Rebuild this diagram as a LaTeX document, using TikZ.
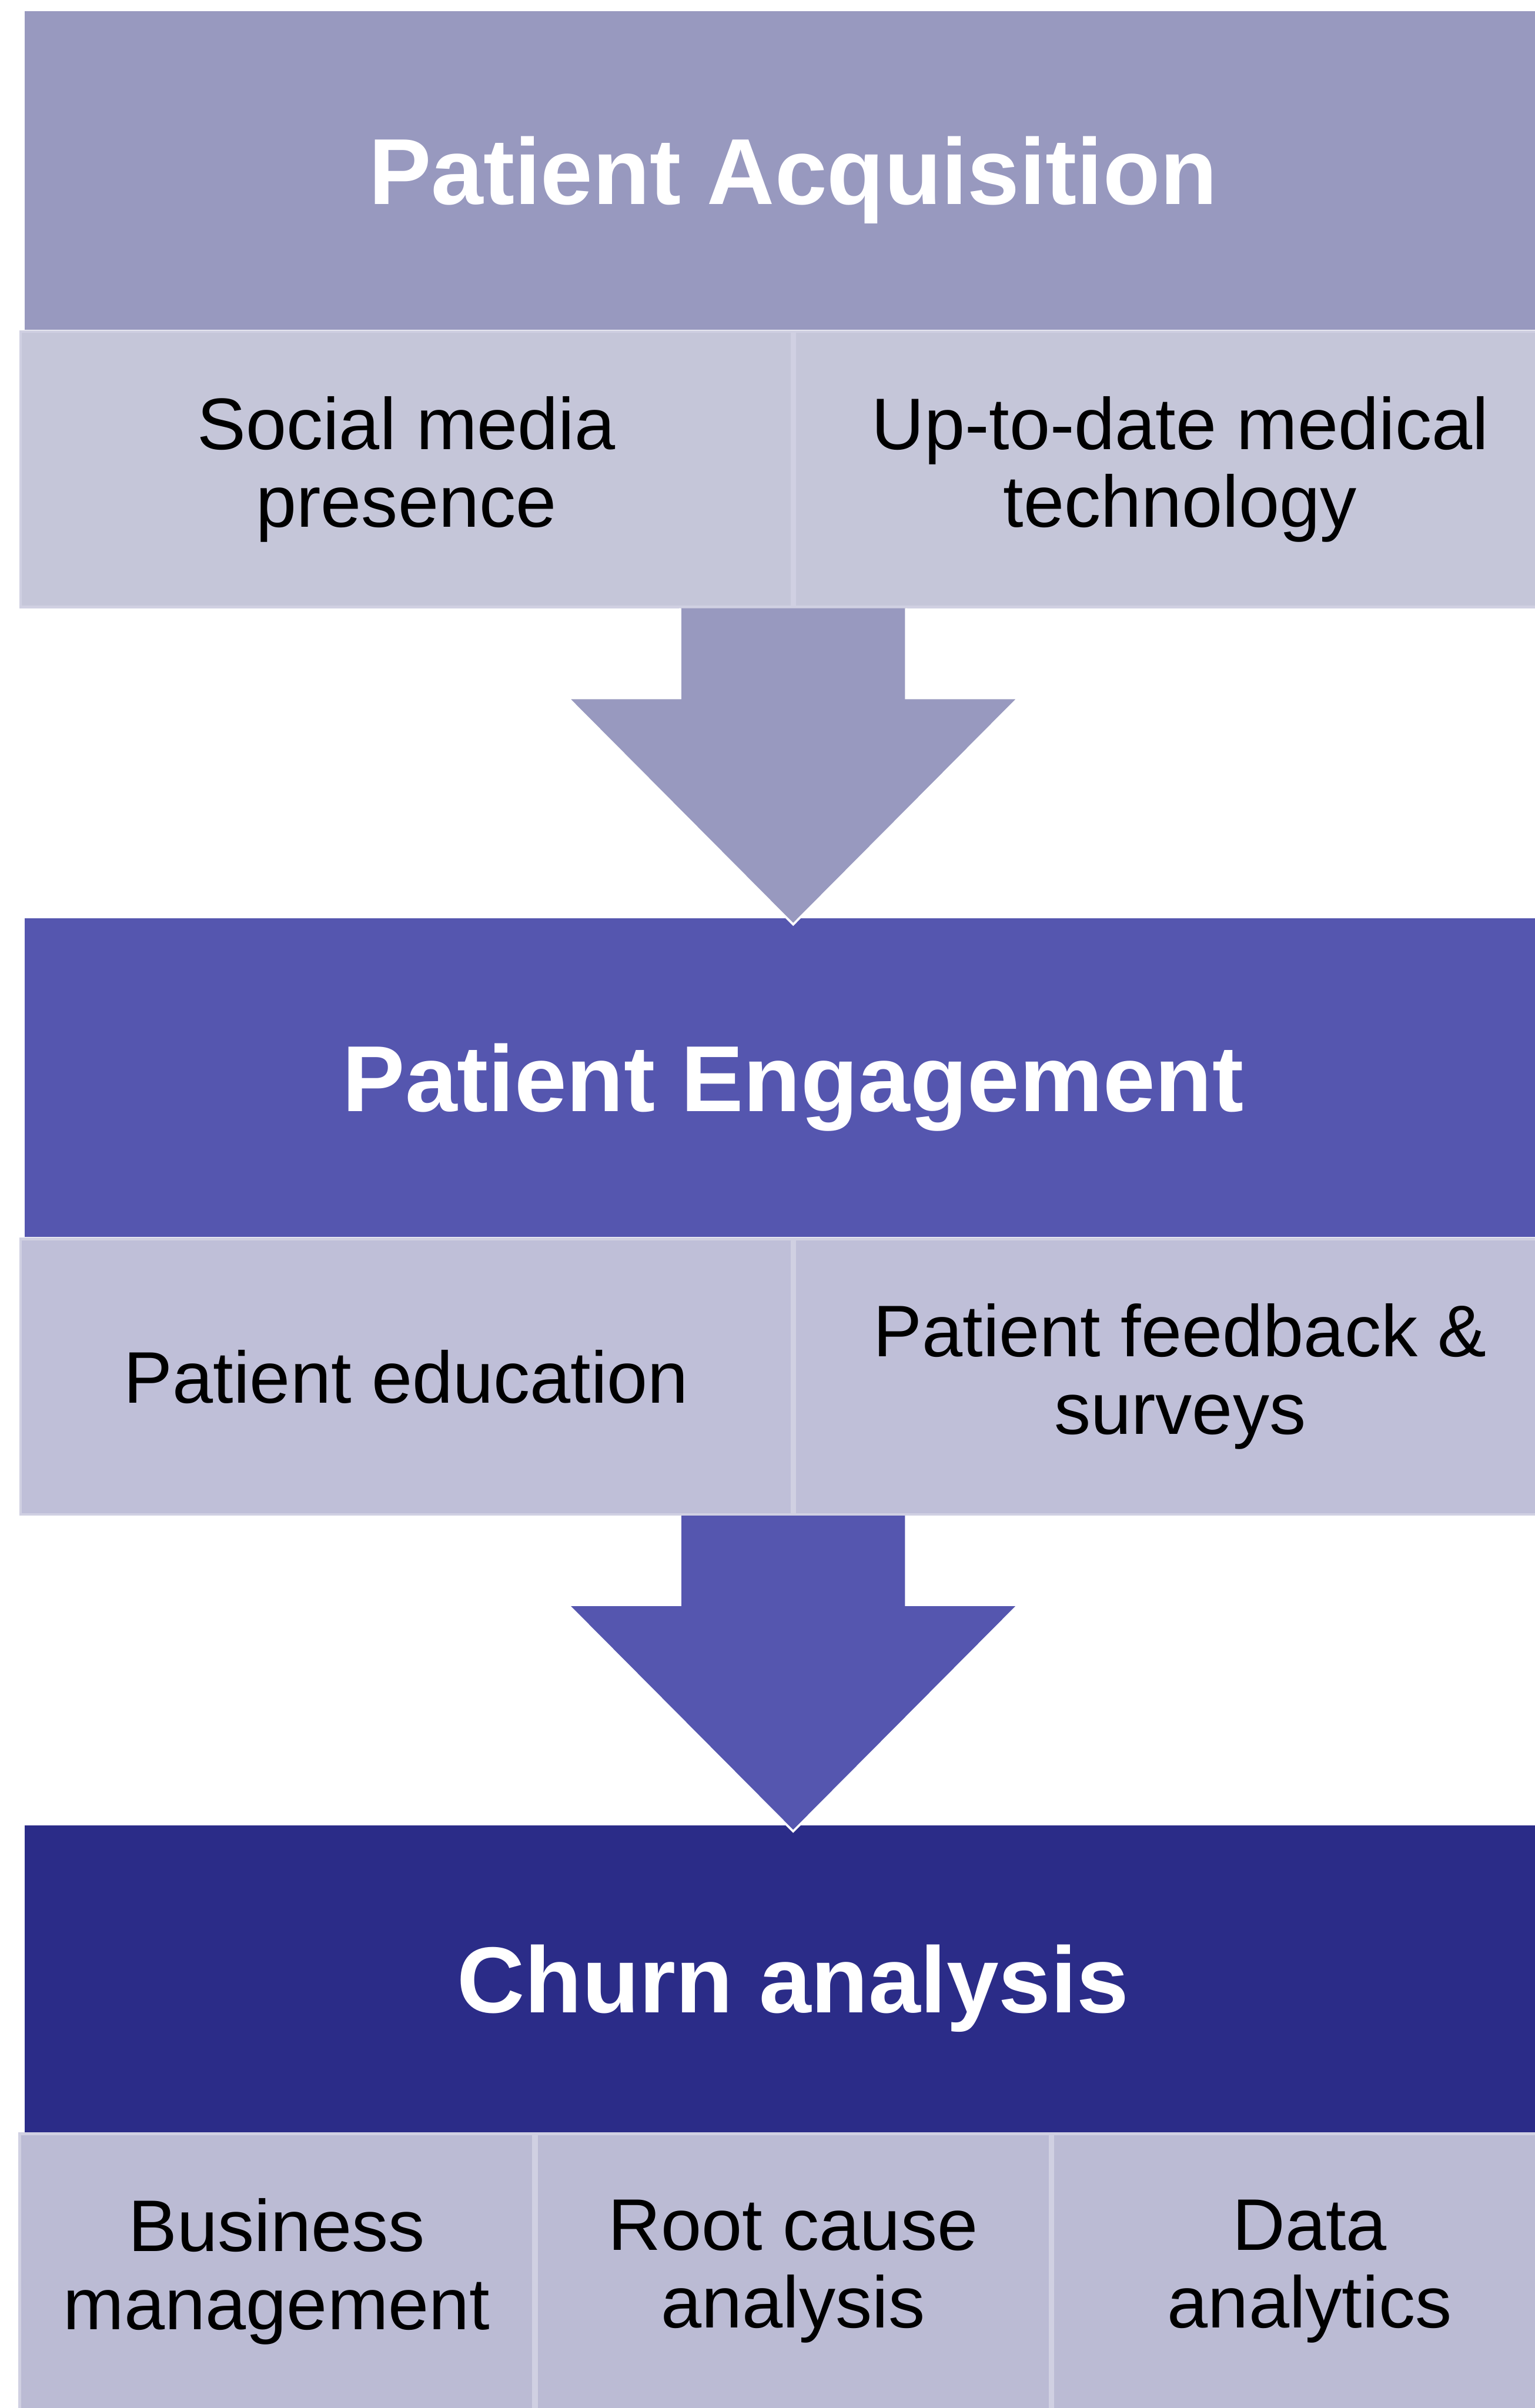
\documentclass[tikz,border=0pt]{standalone}
\usepackage{fontspec}
\setmainfont{Liberation Sans}
\usepackage{tikz}
\usetikzlibrary{calc, positioning}
\definecolor{acqHead}{RGB}{152, 153, 191}
\definecolor{acqCell}{RGB}{197, 198, 217}
\definecolor{engHead}{RGB}{85, 86, 175}
\definecolor{engCell}{RGB}{191, 191, 216}
\definecolor{churnHead}{RGB}{43, 44, 136}
\definecolor{churnCell}{RGB}{187, 187, 212}
\definecolor{cellLine}{RGB}{208, 208, 226}

\tikzset{
  stage/.style={minimum width=28.25cm, minimum height=5.86cm, inner sep=0pt,
    text height=1.24cm, text depth=0cm,
    text=white, font=\fontsize{49}{56}\selectfont\bfseries},
  item/.style={draw=cellLine, line width=0.05cm, minimum height=5.06cm,
    inner sep=0pt, align=center, font=\fontsize{38.2}{40.7}\selectfont},
  half/.style={item, minimum width=14.17cm},
  third/.style={item, minimum width=9.44cm},
}

% block arrow: shaft leaves #1, tip sits just inside #2
\newcommand{\stagearrow}[3]{%
  \filldraw[fill=#3, draw=white, line width=0.04cm, line join=miter]
    ($(#1)+(-2.075,0)$) -- ($(#2)+(-2.075,4.04)$) -- ($(#2)+(-4.135,4.04)$)
    -- ($(#2)+(0,-0.12)$) -- ($(#2)+(4.135,4.04)$) -- ($(#2)+(2.075,4.04)$)
    -- ($(#1)+(2.075,0)$);}

\begin{document}
\begin{tikzpicture}
  \useasboundingbox (0,0) rectangle (28.2,-44.25);
  % the three stages
  \node[stage, fill=acqHead] (acq) at (14.575,-3.13) {Patient Acquisition};
  \node[stage, fill=engHead] (eng) at (14.575,-19.805) {Patient Engagement};
  \node[stage, fill=churnHead, minimum height=5.64cm] (churn) at (14.575,-36.36) {Churn analysis};

  % what each stage is made of
  \node[half, fill=acqCell, below left=0pt and 0pt of acq.south] (social) {Social media\\presence};
  \node[half, fill=acqCell, below right=0pt and 0pt of acq.south] (tech) {Up-to-date medical\\technology};

  \node[half, fill=engCell, below left=0pt and 0pt of eng.south] (educ) {Patient education};
  \node[half, fill=engCell, below right=0pt and 0pt of eng.south] (survey) {Patient feedback \&\\surveys};

  \node[third, fill=churnCell, below=0pt of churn] (rootcause) {Root cause\\analysis};
  \node[third, fill=churnCell, left=0pt of rootcause] (business) {Business\\management};
  \node[third, fill=churnCell, right=0pt of rootcause] (data) {Data\\analytics};

  % arrows between stages
  \stagearrow{social.south east}{eng.north}{acqHead}
  \stagearrow{educ.south east}{churn.north}{engHead}
\end{tikzpicture}
\end{document}
